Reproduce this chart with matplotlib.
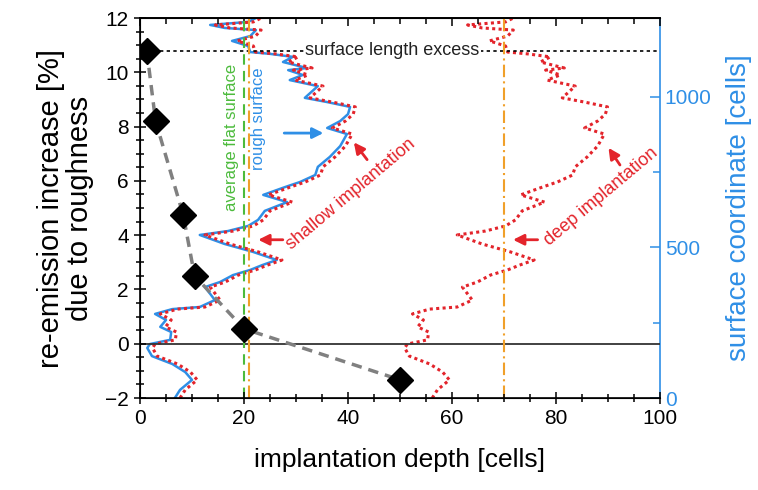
import matplotlib
matplotlib.use('Agg')
import matplotlib.pyplot as plt
import matplotlib.ticker as ticker

plt.rcParams['font.family'] = ['Liberation Sans', 'DejaVu Sans']

# re-emission increase vs implantation depth
depth_pts = [1.3, 3.0, 8.3, 10.5, 20.0, 50.0]
reemission = [10.8, 8.2, 4.75, 2.5, 0.55, -1.33]

# rough surface profile (depth in cells vs surface coordinate in cells)
rough_depth = [6.7, 7.7, 10.0, 8.7, 6.2, 2.3, 1.4, 1.9, 5.8, 6.0,
               3.9, 5.0, 2.9, 6.2, 11.5, 14.4, 12.5, 15.4, 17.9, 21.2,
               23.5, 26.3, 21.7, 16.3, 11.5, 16.9, 20.8, 22.7, 24.0, 28.3,
               23.7, 27.9, 30.8, 33.7, 34.2, 36.5, 38.5, 39.8, 36.0, 38.5,
               40.0, 40.4, 36.0, 31.7, 34.2, 28.8, 31.3, 28.5, 32.1, 27.5,
               29.4, 25.0, 21.2, 20.8, 17.7, 21.2, 22.3, 16.3, 13.5, 20.8,
               22.3]
shallow_depth = [7.7, 8.7, 11.0, 9.7, 7.2, 3.3, 2.4, 2.9, 6.8, 7.0,
                 4.9, 6.0, 3.9, 7.2, 12.5, 15.4, 13.5, 16.4, 18.9, 22.2,
                 24.5, 27.3, 22.7, 17.3, 12.5, 17.9, 21.8, 23.7, 25.0, 29.3,
                 24.7, 28.9, 31.8, 34.7, 35.2, 37.5, 39.5, 40.8, 37.0, 39.5,
                 41.0, 41.4, 37.0, 32.7, 35.2, 29.8, 32.3, 29.5, 33.1, 28.5,
                 30.4, 26.0, 22.2, 21.8, 18.7, 22.2, 23.3, 17.3, 14.5, 21.8,
                 23.3]
deep_depth = [56.2, 57.2, 59.5, 58.2, 55.7, 51.8, 50.9, 51.4, 55.3, 55.5,
              53.4, 54.5, 52.4, 55.7, 61.0, 63.9, 62.0, 64.9, 67.4, 70.7,
              73.0, 75.8, 71.2, 65.8, 61.0, 66.4, 70.3, 72.2, 73.5, 77.8,
              73.2, 77.4, 80.3, 83.2, 83.7, 86.0, 88.0, 89.3, 85.5, 88.0,
              89.5, 89.9, 85.5, 81.2, 83.7, 78.3, 80.8, 78.0, 81.6, 77.0,
              78.9, 74.5, 70.7, 70.3, 67.2, 70.7, 71.8, 65.8, 63.0, 70.3,
              71.8]
surface_coord = [0, 27, 60, 86, 113, 139, 166, 179, 193, 219,
                 236, 259, 279, 295, 302, 325, 368, 385, 408, 425,
                 441, 458, 485, 511, 541, 554, 571, 591, 621, 650,
                 674, 700, 717, 740, 767, 800, 836, 876, 896, 919,
                 942, 966, 982, 996, 1035, 1055, 1072, 1088, 1095, 1115,
                 1132, 1142, 1148, 1168, 1185, 1201, 1221, 1228, 1238, 1248,
                 1261]

flat_surface = 20
shallow_mean = 21
deep_mean = 70
length_excess = 10.8

blue = '#2f8fe6'
red = '#e3242b'
green = '#4cbb3c'
orange = '#f0a02a'

fig = plt.figure(figsize=(7.58, 4.9), dpi=100)
ax = fig.add_axes([140/758, 1 - 398/490, 520/758, 380/490])
ax2 = ax.twinx()

ax.set_xlim(0, 100)
ax.set_ylim(-2, 12)
ax2.set_ylim(0, 1261)

# reference lines
ax.axhline(0, color='#333333', lw=1.3, zorder=1)
ax.axhline(length_excess, color='black', lw=1.2, ls=(0, (2, 2)), zorder=1)
ax.axvline(flat_surface, color=green, lw=1.5, ls=(0, (5, 3)), zorder=1)
ax.axvline(shallow_mean, color=orange, lw=1.5, ls=(0, (6, 2, 1, 2)), zorder=1)
ax.axvline(deep_mean, color=orange, lw=1.5, ls=(0, (6, 2, 1, 2)), zorder=1)

# surface profiles on the right axis
ax2.plot(rough_depth, surface_coord, color=blue, lw=1.8, zorder=2)
ax2.plot(shallow_depth, surface_coord, color=red, lw=2.2, ls=(0, (1, 1.1)), zorder=3)
ax2.plot(deep_depth, surface_coord, color=red, lw=2.2, ls=(0, (1, 1.1)), zorder=3)

# diamonds on top
ax.set_zorder(ax2.get_zorder() + 1)
ax.patch.set_visible(False)
ax.plot(depth_pts, reemission, color='#808080', lw=2.5, ls=(0, (3, 2)), zorder=4)
ax.plot(depth_pts, reemission, 'D', color='black', ms=13.5, zorder=5)

# annotations
ax.text(48.5, length_excess, 'surface length excess', fontsize=13,
        ha='center', va='center', color='#222222',
        bbox=dict(facecolor='white', edgecolor='none', pad=1))
ax.text(17.6, 7.6, 'average flat surface', rotation=90, fontsize=12,
        color=green, ha='center', va='center')
ax.text(22.8, 8.3, 'rough surface', rotation=90, fontsize=12,
        color=blue, ha='center', va='center')
ax.annotate('', xy=(35.8, 7.76), xytext=(27.2, 7.76),
            arrowprops=dict(arrowstyle='-|>', color=blue, lw=2, mutation_scale=16))
ax.text(40.5, 5.5, 'shallow implantation', rotation=40, fontsize=13,
        color=red, ha='center', va='center', rotation_mode='anchor')
ax.annotate('', xy=(22.2, 3.83), xytext=(28.0, 3.83),
            arrowprops=dict(arrowstyle='-|>', color=red, lw=2, mutation_scale=16))
ax.annotate('', xy=(40.8, 7.5), xytext=(44.0, 6.7),
            arrowprops=dict(arrowstyle='-|>', color=red, lw=2, mutation_scale=16))
ax.text(88.6, 5.4, 'deep implantation', rotation=40, fontsize=13,
        color=red, ha='center', va='center', rotation_mode='anchor')
ax.annotate('', xy=(71.2, 3.83), xytext=(77.0, 3.83),
            arrowprops=dict(arrowstyle='-|>', color=red, lw=2, mutation_scale=16))
ax.annotate('', xy=(89.8, 7.3), xytext=(92.6, 6.5),
            arrowprops=dict(arrowstyle='-|>', color=red, lw=2, mutation_scale=16))

# ticks
ax.xaxis.set_major_locator(ticker.MultipleLocator(20))
ax.xaxis.set_minor_locator(ticker.MultipleLocator(5))
ax.yaxis.set_major_locator(ticker.MultipleLocator(2))
ax.yaxis.set_minor_locator(ticker.MultipleLocator(0.5))
ax.tick_params(axis='both', which='major', direction='inout', length=9,
               width=1.1, labelsize=15)
ax.tick_params(axis='both', which='minor', direction='inout', length=6,
               width=1.1)
ax.tick_params(axis='x', which='both', top=False, labeltop=False)
ax.tick_params(axis='y', which='both', right=False)

top = ax.secondary_xaxis('top')
top.xaxis.set_major_locator(ticker.MultipleLocator(20))
top.xaxis.set_minor_locator(ticker.MultipleLocator(5))
top.tick_params(which='major', direction='in', length=6, width=1.1, labeltop=False)
top.tick_params(which='minor', direction='in', length=4, width=1.1)
top.spines['top'].set_linewidth(1.2)

ax2.yaxis.set_major_locator(ticker.MultipleLocator(500))
ax2.yaxis.set_minor_locator(ticker.FixedLocator([250, 750]))
ax2.tick_params(axis='y', which='major', direction='in', length=7, width=1.1,
                colors=blue, labelsize=15)
ax2.tick_params(axis='y', which='minor', direction='in', length=5, width=1.1,
                colors=blue)
ax2.spines['right'].set_color(blue)
ax2.spines['right'].set_linewidth(1.2)
for s in ['left', 'top', 'bottom']:
    ax.spines[s].set_linewidth(1.2)
ax.spines['right'].set_visible(False)

ax.set_xlabel('implantation depth [cells]', fontsize=19, labelpad=14)
ax.set_ylabel('re-emission increase [%]\ndue to roughness', fontsize=21,
              labelpad=8, linespacing=1.05)
ax2.set_ylabel('surface coordinate [cells]', fontsize=20, color=blue, labelpad=10)

fig.savefig('out.png', dpi=100)
